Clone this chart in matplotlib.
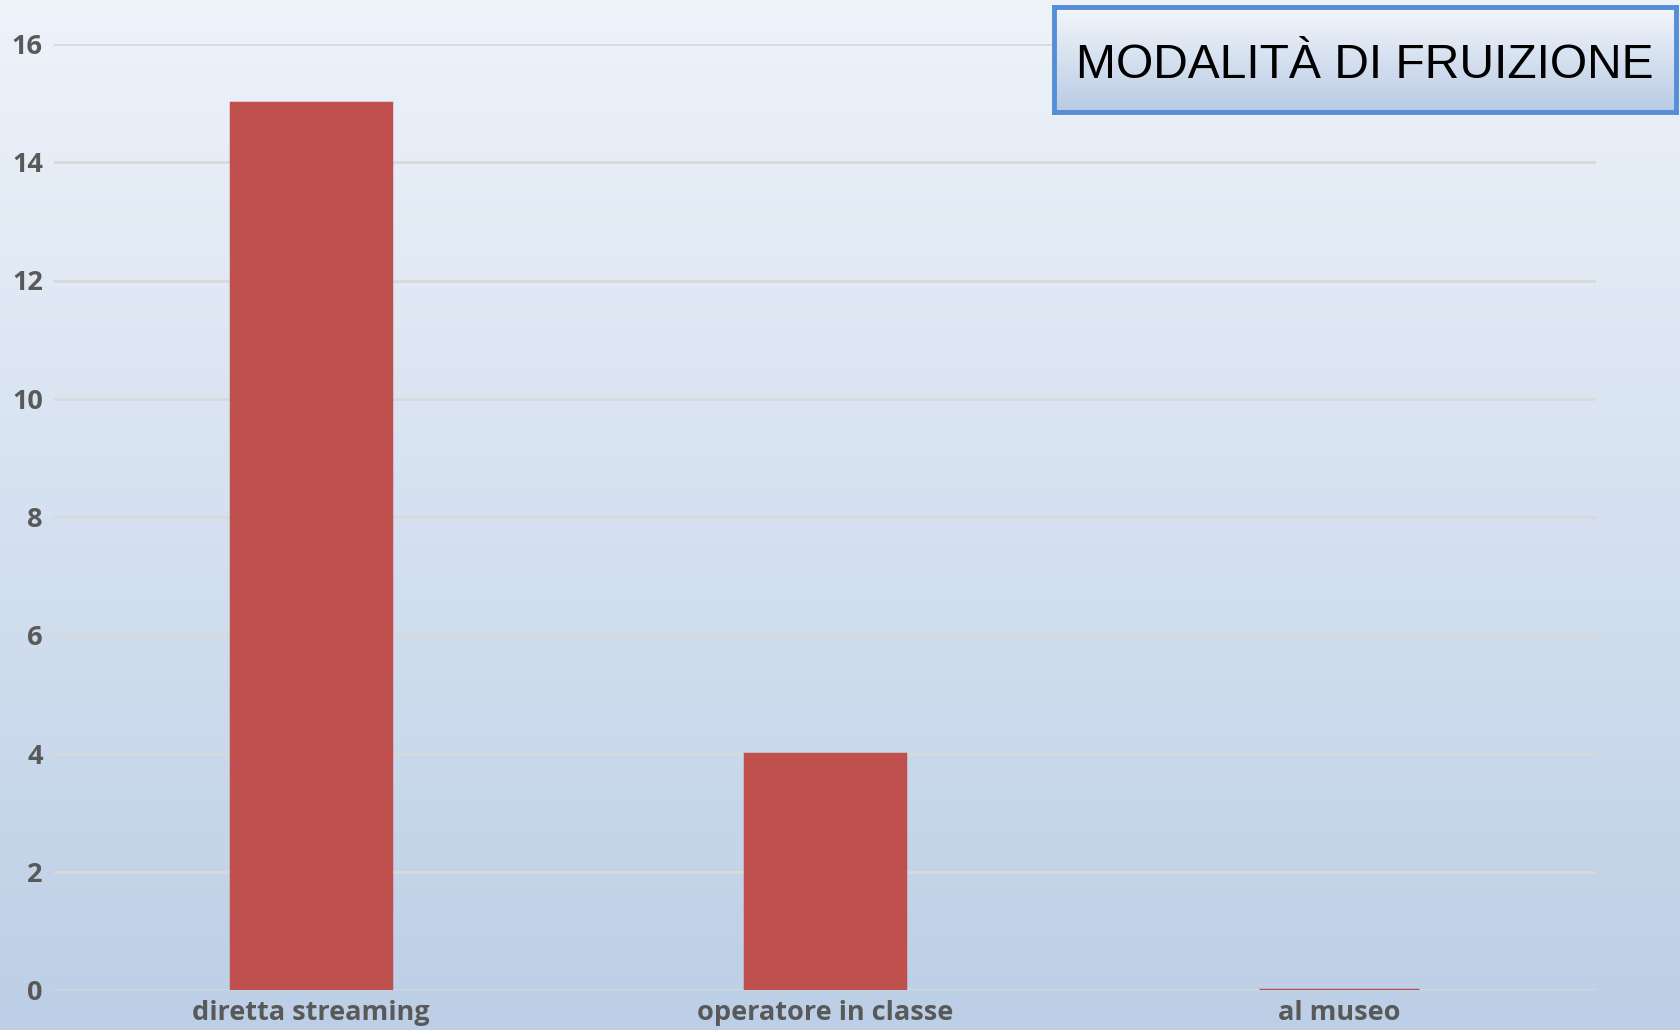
import numpy as np
import matplotlib
matplotlib.use('Agg')
import matplotlib.pyplot as plt
from matplotlib.colors import LinearSegmentedColormap

# dati
categorie = ['diretta streaming', 'operatore in classe', 'al museo']
valori = [15, 4, 0]
yticks = [0, 2, 4, 6, 8, 10, 12, 14, 16]
titolo = 'MODALITÀ DI FRUIZIONE'

W, H = 1681, 1030
fig = plt.figure(figsize=(W / 100, H / 100), dpi=100)

# sfondo sfumato
bg = fig.add_axes([0, 0, 1, 1], zorder=0)
cmap_bg = LinearSegmentedColormap.from_list('bg', ['#EEF3FA', '#BCCFE6'])
bg.imshow(np.linspace(0, 1, 256).reshape(-1, 1), aspect='auto', cmap=cmap_bg,
          extent=[0, 1, 0, 1], origin='upper')
bg.axis('off')

# grafico a barre
ax = fig.add_axes([54 / W, 1 - 990 / H, (1596 - 54) / W, (990 - 44) / H], zorder=1)
ax.patch.set_alpha(0)
x = np.arange(len(categorie))
ax.bar(x, valori, width=0.31, color='#C0504D', edgecolor='#C0504D',
       linewidth=2.5, zorder=3)
ax.set_xlim(-0.5, len(categorie) - 0.5)
ax.set_ylim(0, 16)
ax.set_yticks(yticks)
ax.set_xticks(x)
ax.set_xticklabels(categorie)
ax.yaxis.grid(True, color='#D9D9D9', linewidth=2, zorder=0)
ax.set_axisbelow(True)
for s in ax.spines.values():
    s.set_visible(False)
ax.tick_params(axis='both', length=0, colors='#595959')
ax.tick_params(axis='y', pad=8)
ax.tick_params(axis='x', pad=7)
for lab in ax.get_yticklabels() + ax.get_xticklabels():
    lab.set_fontfamily('Open Sans')
    lab.set_fontweight('bold')
    lab.set_fontsize(19.5)
    lab.set_fontstretch('condensed')

# riquadro del titolo
tax = fig.add_axes([1054 / W, 1 - 112 / H, (1676 - 1054) / W, (112 - 7) / H], zorder=2)
cmap_t = LinearSegmentedColormap.from_list('t', ['#F3F6FB', '#B8CBE4'])
tax.imshow(np.linspace(0, 1, 256).reshape(-1, 1), aspect='auto', cmap=cmap_t,
           extent=[0, 1, 0, 1], origin='upper')
tax.set_xticks([])
tax.set_yticks([])
for s in tax.spines.values():
    s.set_color('#558ED5')
    s.set_linewidth(3.5)
tax.text(0.5, 0.44, titolo, ha='center', va='center', fontsize=34.6,
         family='Liberation Sans', color='black', transform=tax.transAxes)

fig.savefig('out.png', dpi=100)
